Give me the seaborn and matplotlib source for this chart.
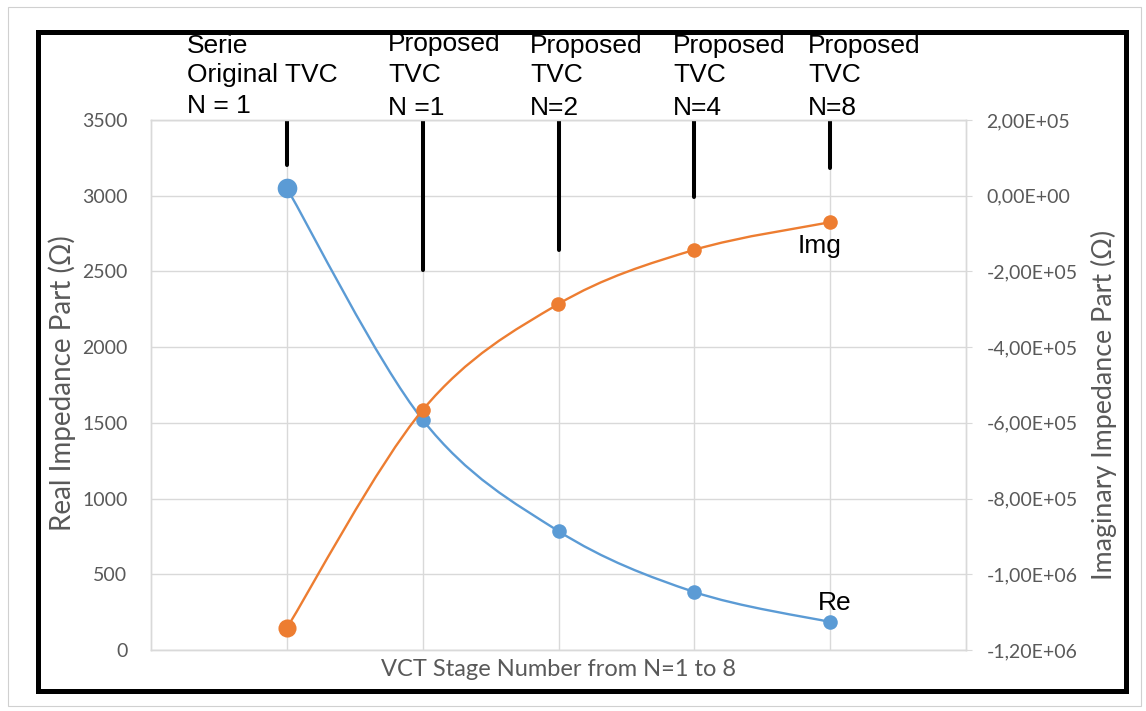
import matplotlib
matplotlib.use("Agg")
import matplotlib.pyplot as plt
import seaborn as sns
import pandas as pd
from matplotlib.patches import Rectangle, PathPatch
from matplotlib.path import Path
from matplotlib.ticker import FixedLocator, FixedFormatter

# ---------------- data ----------------
stage_line1 = ["Serie", "Proposed", "Proposed", "Proposed", "Proposed"]
stage_line2 = ["Original TVC", "TVC", "TVC", "TVC", "TVC"]
stage_line3 = ["N = 1", "N =1", "N=2", "N=4", "N=8"]
real_part = [3050, 1520, 785, 383, 185]
imag_part = [-1.142e6, -5.66e5, -2.86e5, -1.43e5, -7.0e4]
left_ticks = [0, 500, 1000, 1500, 2000, 2500, 3000, 3500]
left_tick_labels = ["0", "500", "1000", "1500", "2000", "2500", "3000", "3500"]
right_ticks = [2e5, 0, -2e5, -4e5, -6e5, -8e5, -1e6, -1.2e6]
right_tick_labels = ["2,00E+05", "0,00E+00", "-2,00E+05", "-4,00E+05",
                     "-6,00E+05", "-8,00E+05", "-1,00E+06", "-1,20E+06"]

# ---------------- layout / style ----------------
W, H = 1146, 711
leader_bottom = [3200, 2510, 2640, 2990, 3180]      # left-axis units
title_left_px = [187, 388, 530, 673, 808]
title_base_px = [(53, 82, 113), (51, 82, 115), (53, 82, 115), (53, 82, 115), (53, 82, 115)]

BLUE = "#5B9BD5"
ORANGE = "#ED7D31"
GRID = "#d9d9d9"
TXT = "#595959"

sns.set_theme(style="white")
plt.rcParams["font.family"] = ["Lato", "DejaVu Sans"]

fig = plt.figure(figsize=(W / 100, H / 100), dpi=100)
fig.patch.set_facecolor("white")

px = lambda x: x / W
py = lambda y: 1 - y / H

ax = fig.add_axes([px(151), py(650), (966 - 151) / W, (650 - 120) / H])
ax.set_facecolor("white")

df = pd.DataFrame({"stage": range(len(real_part)), "Re": real_part, "Img": imag_part})


def smooth_path(xs, ys):
    """Excel-like smoothed line (Catmull-Rom as cubic Bezier) through the data points."""
    xs, ys = list(xs), list(ys)
    n = len(xs)
    verts = [(xs[0], ys[0])]
    codes = [Path.MOVETO]
    for i in range(n - 1):
        xp, yp = (xs[i - 1], ys[i - 1]) if i > 0 else (xs[i], ys[i])
        xn, yn = (xs[i + 2], ys[i + 2]) if i + 2 < n else (xs[i + 1], ys[i + 1])
        c1 = (xs[i] + (xs[i + 1] - xp) / 6, ys[i] + (ys[i + 1] - yp) / 6)
        c2 = (xs[i + 1] - (xn - xs[i]) / 6, ys[i + 1] - (yn - ys[i]) / 6)
        verts += [c1, c2, (xs[i + 1], ys[i + 1])]
        codes += [Path.CURVE4] * 3
    return Path(verts, codes)


ax.vlines(df["stage"], leader_bottom, 3500, color="black", linewidth=2.9,
          capstyle="round", zorder=4)
ax.add_patch(PathPatch(smooth_path(df["stage"], df["Re"]), facecolor="none",
                       edgecolor=BLUE, linewidth=1.7, zorder=3))
sns.scatterplot(data=df.iloc[1:], x="stage", y="Re", ax=ax, color=BLUE, s=110,
                linewidth=0, zorder=3.5)
sns.scatterplot(data=df.iloc[:1], x="stage", y="Re", ax=ax, color=BLUE, s=200,
                linewidth=0, zorder=3.5)

ax2 = ax.twinx()
ax2.add_patch(PathPatch(smooth_path(df["stage"], df["Img"]), facecolor="none",
                        edgecolor=ORANGE, linewidth=1.7, zorder=3))
sns.scatterplot(data=df.iloc[1:], x="stage", y="Img", ax=ax2, color=ORANGE, s=110,
                linewidth=0, zorder=3.5)
sns.scatterplot(data=df.iloc[:1], x="stage", y="Img", ax=ax2, color=ORANGE, s=170,
                linewidth=0, zorder=3.5)

ax.set_xlim(-1, len(real_part))
ax.set_ylim(0, 3500)
ax2.set_ylim(-1.2e6, 2e5)

ax.set_xticks(range(len(real_part)))
ax.set_xticklabels([])
ax.yaxis.set_major_locator(FixedLocator(left_ticks))
ax.yaxis.set_major_formatter(FixedFormatter(left_tick_labels))
ax2.yaxis.set_major_locator(FixedLocator(right_ticks))
ax2.yaxis.set_major_formatter(FixedFormatter(right_tick_labels))

ax.grid(True, color=GRID, linewidth=1.0)
ax.set_axisbelow(True)
ax2.grid(False)
for a in (ax, ax2):
    for s in a.spines.values():
        s.set_color(GRID)
        s.set_linewidth(1.0)

ax.tick_params(axis="x", length=0)
ax.tick_params(axis="y", length=0, pad=17, labelsize=14, labelcolor=TXT)
ax2.tick_params(axis="y", length=4.3, width=0.8, color=GRID, direction="out",
                pad=10.5, labelsize=14, labelcolor=TXT)

ax.set_ylabel("Real Impedance Part (Ω)", fontsize=20, color=TXT, va="center", ha="center")
ax.yaxis.set_label_coords((62 - 151) / 815, (650 - 383) / 530)
ax2.set_ylabel("Imaginary Impedance Part (Ω)", fontsize=19.3, color=TXT, va="center", ha="center")
ax2.yaxis.set_label_coords((1104 - 151) / 815, (650 - 405) / 530)
ax.set_xlabel("VCT Stage Number from N=1 to 8", fontsize=17, color=TXT, va="center", ha="center")
ax.xaxis.set_label_coords(0.5, (650 - 669) / 530)

# series labels
ax.annotate("Re", xy=(4, real_part[4]), xytext=(-12, 12), textcoords="offset pixels",
            ha="left", va="baseline", fontsize=19, family=["Liberation Sans"], color="black")
ax2.annotate("Img", xy=(4, imag_part[4]), xytext=(-33, -31), textcoords="offset pixels",
             ha="left", va="baseline", fontsize=19, family=["Liberation Sans"], color="black")

# stage titles above the plot
for i in range(len(stage_line1)):
    for txt, b in zip((stage_line1[i], stage_line2[i], stage_line3[i]), title_base_px[i]):
        fig.text(px(title_left_px[i]), py(b), txt, ha="left", va="baseline",
                 fontsize=19, family=["Liberation Sans"], color="black", zorder=5)

# frames
fig.add_artist(Rectangle((px(7.5), py(705.5)), (1140.5 - 7.5) / W, (705.5 - 6.5) / H,
                         transform=fig.transFigure, fill=False, linewidth=0.8,
                         edgecolor="#d0d0d0", zorder=9))
fig.add_artist(Rectangle((px(37.5), py(690.5)), (1125.5 - 37.5) / W, (690.5 - 32) / H,
                         transform=fig.transFigure, fill=False, linewidth=3.6,
                         edgecolor="black", zorder=10))

fig.savefig("out.png", dpi=100, facecolor="white")
